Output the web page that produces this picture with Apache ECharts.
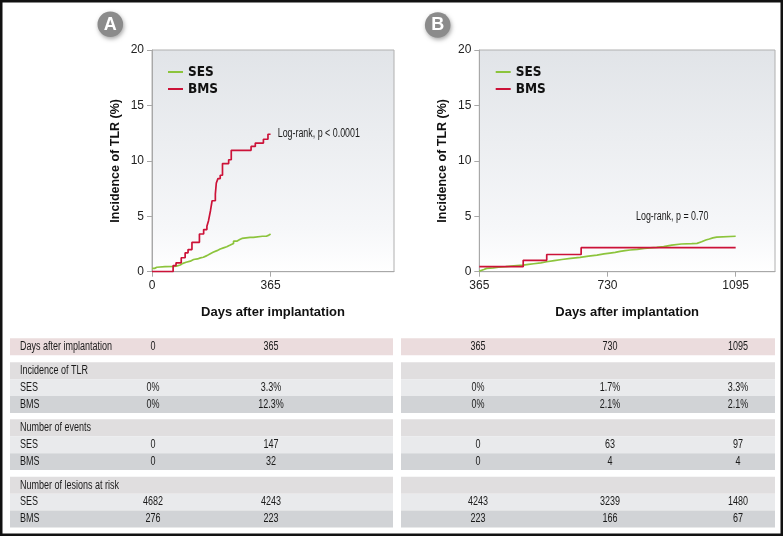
<!DOCTYPE html>
<html>
<head>
<meta charset="utf-8">
<script src="https://cdn.jsdelivr.net/npm/echarts@6/dist/echarts.min.js"></script>
<style>
html,body{margin:0;padding:0;background:#fff;}
#chart{width:784px;height:538px;}
</style>
</head>
<body>
<div id="chart"></div>
<script>
// ---- Data ----
// Panel A (0-365 days): [day, incidence %]
const sesA = [[0,0.3],[8,0.4],[15,0.45],[40,0.48],[66,0.5],[75,0.6],[87,0.75],[95,0.85],[105,0.95],[118,1.1],[128,1.15],[140,1.25],[149,1.3],[158,1.45],[169,1.6],[178,1.75],[188,1.9],[200,2.05],[210,2.15],[220,2.25],[230,2.4],[241,2.55],[251,2.75],[261,2.9],[270,3.0],[277,3.1],[302,3.1],[312,3.2],[340,3.2],[352,3.3],[360,3.4],[365,3.45]];
const bmsA = [[0,0],[65,0.55],[74,0.8],[90,1.26],[102,1.7],[111,2.0],[123,2.65],[146,3.4],[159,3.8],[169,4.1],[174,4.6],[180,5.5],[185,6.4],[195,7.0],[198,8.0],[203,8.4],[210,8.7],[217,9.75],[236,10.1],[244,10.95],[305,11.3],[318,11.6],[343,11.95],[357,12.4],[365,12.4]];
// Panel B (365-1095 days)
const sesB = [[365,0.05],[370,0.2],[378,0.3],[386,0.35],[405,0.4],[420,0.45],[440,0.5],[455,0.55],[472,0.6],[490,0.66],[505,0.72],[520,0.8],[540,0.9],[557,1.0],[578,1.1],[600,1.2],[625,1.3],[652,1.4],[676,1.5],[700,1.6],[720,1.68],[737,1.75],[752,1.83],[766,1.9],[780,1.96],[794,2.02],[815,2.1],[835,2.15],[852,2.2],[870,2.26],[890,2.4],[913,2.5],[940,2.53],[970,2.56],[985,2.7],[998,2.86],[1010,2.95],[1020,3.05],[1030,3.12],[1041,3.2],[1095,3.2]];
const bmsB = [[365,0.45],[490,1.03],[557,1.55],[655,2.17],[1095,2.17]];

const xTicksA = [0, 365];
const xTicksB = [365, 730, 1095];
const seriesNames = ['SES', 'BMS'];
const logRankA = 'Log-rank, p < 0.0001';
const logRankB = 'Log-rank, p = 0.70';

// Table values
const daysA = ['0', '365'];
const daysB = ['365', '730', '1095'];
const incSesA = ['0%', '3.3%'];
const incBmsA = ['0%', '12.3%'];
const incSesB = ['0%', '1.7%', '3.3%'];
const incBmsB = ['0%', '2.1%', '2.1%'];
const evSesA = ['0', '147'];
const evBmsA = ['0', '32'];
const evSesB = ['0', '63', '97'];
const evBmsB = ['0', '4', '4'];
const riskSesA = ['4682', '4243'];
const riskBmsA = ['276', '223'];
const riskSesB = ['4243', '3239', '1480'];
const riskBmsB = ['223', '166', '67'];

// ---- Styles ----
const GREEN = '#8cc43c';
const RED = '#cc1238';
const SANS = '"Liberation Sans",Arial,sans-serif';
const COND = '"DejaVu Sans Condensed","Liberation Sans",sans-serif';

const chart = echarts.init(document.getElementById('chart'), null, {renderer: 'canvas'});

const gridBg = {type:'linear', x:0, y:0, x2:0, y2:1, colorStops:[{offset:0,color:'#e1e4e8'},{offset:0.8,color:'#f6f7f9'},{offset:1,color:'#ffffff'}]};

function yAxis(gridIndex){
  return {
    type:'value', gridIndex, min:0, max:20, interval:5,
    name:'Incidence of TLR (%)', nameLocation:'middle', nameGap:30,
    nameTextStyle:{fontFamily:SANS, fontWeight:'bold', fontSize:12.5, color:'#111'},
    axisLine:{show:true, lineStyle:{color:'#a8a8a8', width:1}},
    axisTick:{show:true, length:5, lineStyle:{color:'#a8a8a8'}},
    axisLabel:{margin:8, fontFamily:SANS, fontSize:12, color:'#222'},
    splitLine:{show:false}
  };
}
function xAxis(gridIndex, min, max, ticks){
  return {
    type:'value', gridIndex, min, max,
    name:'Days after implantation', nameLocation:'middle', nameGap:34,
    nameTextStyle:{fontFamily:SANS, fontWeight:'bold', fontSize:13, color:'#111'},
    axisLine:{show:true, lineStyle:{color:'#a8a8a8', width:1}},
    axisTick:{show:true, length:5, customValues:ticks, lineStyle:{color:'#a8a8a8'}},
    axisLabel:{margin:8, customValues:ticks, formatter:(v)=>String(v), fontFamily:SANS, fontSize:12, color:'#222'},
    splitLine:{show:false}
  };
}
function legend(left){
  return {
    orient:'vertical', left, top:65, padding:0, itemGap:3,
    icon:'rect', itemWidth:15, itemHeight:2, data:seriesNames,
    textStyle:{fontFamily:COND, fontWeight:'bold', fontSize:13.5, color:'#111', lineHeight:14},
    selectedMode:false
  };
}
function line(name, data, idx, color){
  return {
    type:'line', name, data, xAxisIndex:idx, yAxisIndex:idx, step:'end',
    symbol:'none', showSymbol:false, animation:false,
    itemStyle:{color}, lineStyle:{color, width:1.7}
  };
}
function narrowText(x, y, text, align, size, sx){
  return {type:'text', x, y, scaleX:sx, style:{text, fontFamily:SANS, fontSize:size, fill:'#1a1a1a', verticalAlign:'middle', align}, silent:true};
}

// ---- Table graphics built from the arrays ----
const rows = [
  {label:'Days after implantation', kind:'head', a:daysA, b:daysB},
  {label:'Incidence of TLR', kind:'sec', a:[], b:[]},
  {label:'SES', kind:'ses', a:incSesA, b:incSesB},
  {label:'BMS', kind:'bms', a:incBmsA, b:incBmsB},
  {label:'Number of events', kind:'sec', a:[], b:[]},
  {label:'SES', kind:'ses', a:evSesA, b:evSesB},
  {label:'BMS', kind:'bms', a:evBmsA, b:evBmsB},
  {label:'Number of lesions at risk', kind:'sec', a:[], b:[]},
  {label:'SES', kind:'ses', a:riskSesA, b:riskSesB},
  {label:'BMS', kind:'bms', a:riskBmsA, b:riskBmsB}
];
const rowTop = [338.3, 362.3, 379.2, 396, 419.3, 436.2, 453.2, 476.8, 493.7, 510.6];
const rowH = 16.9;
const fills = {head:'#ebdcdd', sec:'#e0dedf', ses:'#e9eaec', bms:'#d1d3d6'};
const colA = [153, 271];
const colB = [478, 610, 738];
const tableEls = [];
rows.forEach((r, i) => {
  const y = rowTop[i];
  tableEls.push({type:'rect', shape:{x:10, y, width:383, height:rowH}, style:{fill:fills[r.kind]}, silent:true});
  tableEls.push({type:'rect', shape:{x:401, y, width:374, height:rowH}, style:{fill:fills[r.kind]}, silent:true});
  const ty = y + rowH/2;
  tableEls.push(narrowText(20, ty, r.label, 'left', 12, 0.75));
  r.a.forEach((v, j) => tableEls.push(narrowText(colA[j], ty, v, 'center', 12, 0.75)));
  r.b.forEach((v, j) => tableEls.push(narrowText(colB[j], ty, v, 'center', 12, 0.75)));
});

function badge(cx, cy, letter){
  return [
    {type:'circle', shape:{cx, cy, r:12.8}, style:{fill:'#8b8b8b', shadowBlur:4, shadowOffsetX:1, shadowOffsetY:2, shadowColor:'rgba(0,0,0,0.35)'}, silent:true},
    {type:'text', x:cx, y:cy+0.5, style:{text:letter, fontFamily:SANS, fontWeight:'bold', fontSize:18, fill:'#ffffff', align:'center', verticalAlign:'middle'}}
  ];
}

const option = {
  animation:false,
  backgroundColor:'#ffffff',
  grid:[
    {left:152, top:50, width:242, height:221.7, show:true, borderColor:'#b0b0b0', borderWidth:1, backgroundColor:gridBg},
    {left:479.3, top:50, width:295.7, height:221.7, show:true, borderColor:'#b0b0b0', borderWidth:1, backgroundColor:gridBg}
  ],
  xAxis:[xAxis(0, 0, 745, xTicksA), xAxis(1, 365, 1207, xTicksB)],
  yAxis:[yAxis(0), yAxis(1)],
  legend:[legend(168), legend(495.7)],
  series:[
    line('SES', sesA, 0, GREEN),
    line('BMS', bmsA, 0, RED),
    line('SES', sesB, 1, GREEN),
    line('BMS', bmsB, 1, RED)
  ],
  graphic:[
    ...tableEls,
    ...badge(110.3, 24.2, 'A'),
    ...badge(437.7, 25, 'B'),
    narrowText(277.7, 133.3, logRankA, 'left', 12, 0.74),
    narrowText(636, 216.7, logRankB, 'left', 12, 0.74),
    {type:'rect', shape:{x:1.25, y:1.25, width:780.5, height:533.5}, style:{fill:'none', stroke:'#111111', lineWidth:2.5}, silent:true, z:100}
  ]
};
chart.setOption(option);
</script>
</body>
</html>
